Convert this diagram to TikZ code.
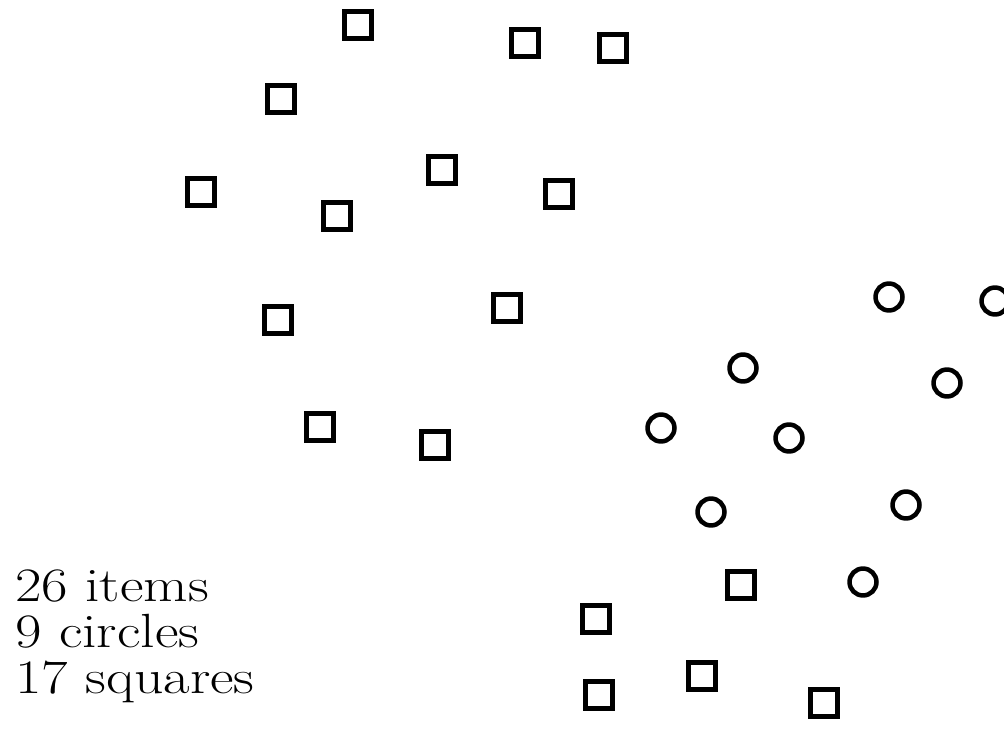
\documentclass[tikz,border=0pt]{standalone}
\begin{document}
\begin{tikzpicture}[x=0.75pt,y=-0.75pt,
  sq/.style={draw=black,line width=3.4pt,rectangle,minimum size=19.9pt,inner sep=0pt},
  ci/.style={draw=black,line width=3.4pt,circle,minimum size=20.2pt,inner sep=0pt},
  count/.style={anchor=base west,inner sep=0pt,font=\fontsize{36}{46}\selectfont}]
\useasboundingbox (0,0) rectangle (1004,746);
\clip (0,0) rectangle (1004,746);
% squares
\node[sq] (s1)  at (358,25)  {};
\node[sq] (s2)  at (525,43)  {};
\node[sq] (s3)  at (613,48)  {};
\node[sq] (s4)  at (281,99)  {};
\node[sq] (s5)  at (201,192) {};
\node[sq] (s6)  at (442,170) {};
\node[sq] (s7)  at (559,194) {};
\node[sq] (s8)  at (337,216) {};
\node[sq] (s9)  at (278,320) {};
\node[sq] (s10) at (507,308) {};
\node[sq] (s11) at (320,427) {};
\node[sq] (s12) at (435,445) {};
\node[sq] (s13) at (741,585) {};
\node[sq] (s14) at (596,619) {};
\node[sq] (s15) at (599,695) {};
\node[sq] (s16) at (702,676) {};
\node[sq] (s17) at (824,703) {};
% circles
\node[ci] (c1) at (889,297) {};
\node[ci] (c2) at (995,301) {};
\node[ci] (c3) at (743,368) {};
\node[ci] (c4) at (947,383) {};
\node[ci] (c5) at (661,428) {};
\node[ci] (c6) at (789,438) {};
\node[ci] (c7) at (711,512) {};
\node[ci] (c8) at (906,505) {};
\node[ci] (c9) at (863,582) {};
% totals
\node[count] (t1) at (15,601) {\scalebox{1.2}[1]{26 items}};
\node[count] (t2) at (15,647) {\scalebox{1.2}[1]{9 circles}};
\node[count] (t3) at (15,693) {\scalebox{1.2}[1]{17 squares}};
\end{tikzpicture}
\end{document}
